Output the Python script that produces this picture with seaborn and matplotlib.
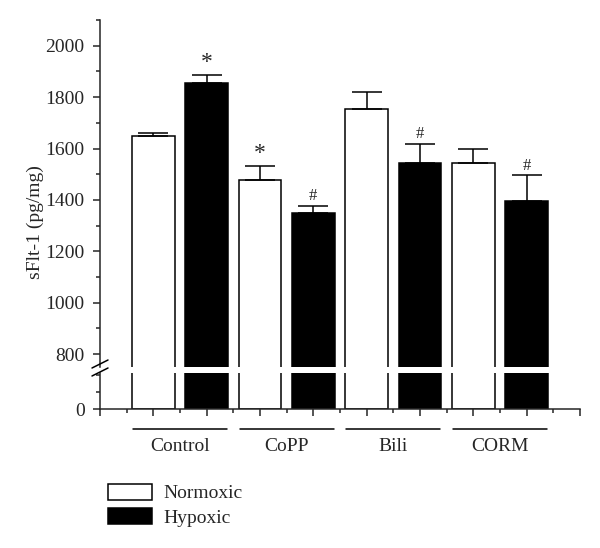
import numpy as np
import pandas as pd
import matplotlib
matplotlib.use('Agg')
import matplotlib.pyplot as plt
from matplotlib.patches import Patch
from matplotlib.lines import Line2D
from matplotlib.ticker import MultipleLocator
import seaborn as sns

# data
groups = ['Control', 'CoPP', 'Bili', 'CORM']
conditions = ['Normoxic', 'Hypoxic']
normoxic = [1650, 1478, 1755, 1545]
hypoxic = [1855, 1350, 1545, 1396]
normoxic_err = [10, 55, 65, 52]
hypoxic_err = [32, 27, 74, 101]
normoxic_marks = ['', '*', '', '']
hypoxic_marks = ['*', '#', '#', '#']

rows = []
for i, g in enumerate(groups):
    rows.append({'bar': g + ' N', 'Group': g, 'Condition': 'Normoxic',
                 'value': normoxic[i], 'err': normoxic_err[i], 'mark': normoxic_marks[i]})
    rows.append({'bar': g + ' H', 'Group': g, 'Condition': 'Hypoxic',
                 'value': hypoxic[i], 'err': hypoxic_err[i], 'mark': hypoxic_marks[i]})
df = pd.DataFrame(rows)

sns.set_style('ticks')
plt.rcParams['font.family'] = ['Liberation Serif', 'DejaVu Serif']
plt.rcParams['axes.linewidth'] = 1.1

FS = 14
W, H = 600, 548
fig = plt.figure(figsize=(W / 100, H / 100), dpi=100)
left, right = 100, 580
ax_top = fig.add_axes([left / W, 1 - 367 / H, (right - left) / W, (367 - 20) / H])
ax_low = fig.add_axes([left / W, 1 - 409 / H, (right - left) / W, (409 - 373) / H])

palette = {'Normoxic': 'white', 'Hypoxic': 'black'}
for ax in (ax_top, ax_low):
    sns.barplot(df, x='bar', y='value', hue='Condition', palette=palette,
                dodge=False, width=0.8, edgecolor='black', linewidth=1.1,
                legend=False, ax=ax)
    ax.set_xlim(-1, 8)
    ax.set_xlabel('')
    ax.set_ylabel('')
    ax.xaxis.set_major_locator(MultipleLocator(1))
    ax.xaxis.set_minor_locator(MultipleLocator(0.5))
    ax.tick_params(axis='both', which='major', length=5, width=1.1, labelsize=FS, pad=6)
    ax.tick_params(axis='both', which='minor', length=3, width=1.1)

ax_top.set_ylim(750, 2100)
ax_top.yaxis.set_minor_locator(MultipleLocator(100))
ax_top.set_yticks(np.arange(800, 2001, 200))
ax_top.spines[['top', 'right', 'bottom']].set_visible(False)
ax_top.tick_params(axis='x', which='both', bottom=False, labelbottom=False)

ax_low.set_ylim(0, 212)
ax_low.set_yticks([0])
ax_low.yaxis.set_minor_locator(MultipleLocator(100))
ax_low.spines[['top', 'right']].set_visible(False)
ax_low.set_xticklabels([])

# error bars (upper only) and significance marks
xpos = np.arange(len(df))
ax_top.errorbar(xpos, df['value'], yerr=[np.zeros(len(df)), df['err']],
                fmt='none', ecolor='black', elinewidth=1.1, capsize=11, capthick=1.1)
for x, v, e, m in zip(xpos, df['value'], df['err'], df['mark']):
    if m:
        ax_top.annotate(m, (x, v + e), xytext=(0, 1), textcoords='offset points',
                        ha='center', va='bottom', fontsize=17 if m == '*' else 12)

# group lines and labels
trans = ax_low.get_xaxis_transform()
for i, g in enumerate(groups):
    c = 2 * i + 0.5
    ax_low.plot([c - 0.88, c + 0.88], [-0.556, -0.556], color='black', lw=1.1,
                transform=trans, clip_on=False)
    ax_low.text(c, -1.03, g, transform=trans, ha='center', va='center', fontsize=FS)

# axis break marks
for yb in (364, 372):
    fig.add_artist(Line2D([92 / W, 108 / W], [1 - (yb + 4) / H, 1 - (yb - 4) / H],
                          color='black', lw=1.1))

fig.text(35 / W, 1 - 222 / H, 'sFlt-1 (pg/mg)', rotation=90, ha='center',
         va='center', fontsize=FS)

handles = [Patch(facecolor=palette[c], edgecolor='black', linewidth=1.1, label=c)
           for c in conditions]
fig.legend(handles=handles, loc='upper left', bbox_to_anchor=(90 / W, 1 - 466 / H),
           frameon=False, fontsize=FS, handlelength=2.3, handleheight=0.9,
           handletextpad=0.6, labelspacing=0.3)

fig.savefig('out.png', dpi=100)
